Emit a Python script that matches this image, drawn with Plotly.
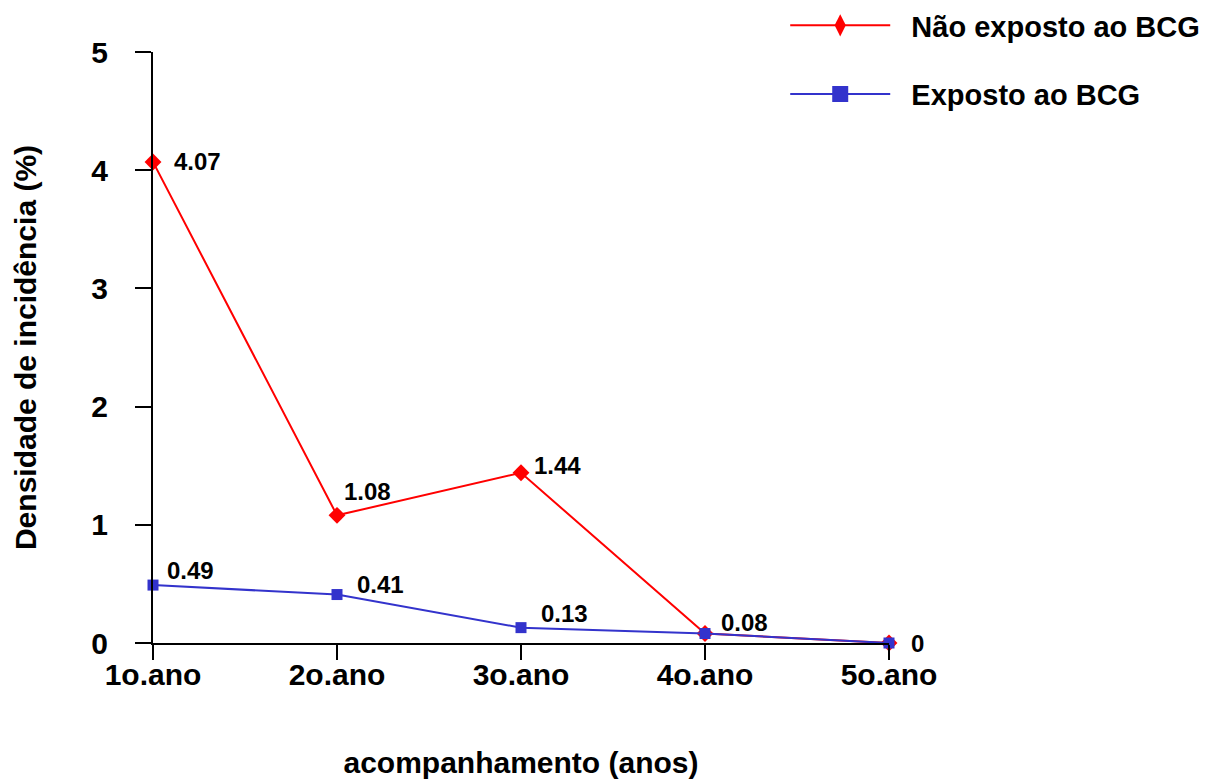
import plotly.graph_objects as go

categories = ["1o.ano", "2o.ano", "3o.ano", "4o.ano", "5o.ano"]
nao_exposto = [4.07, 1.08, 1.44, 0.08, 0]
exposto = [0.49, 0.41, 0.13, 0.08, 0]
nao_exposto_labels = ["4.07", "1.08", "1.44"]
exposto_labels = ["0.49", "0.41", "0.13", "0.08", "0"]
y_ticks = [0, 1, 2, 3, 4, 5]

# label offsets (px) relative to points
red_off = [(19, 0), (5, 24), (11, 7)]
blue_off = [(12, 15), (18, 10), (18, 14), (14, 11), (20, 0)]

xpos = list(range(len(categories)))
RED = "#FF0000"
BLUE = "#3333CC"
FONT = "Liberation Sans, Arial, sans-serif"
NB = "\u00a0\u00a0"

fig = go.Figure()
fig.add_trace(go.Scatter(
    x=xpos, y=nao_exposto, mode="lines+markers", showlegend=False,
    line=dict(color=RED, width=2), marker=dict(symbol="diamond", size=13, color=RED),
    cliponaxis=False))
fig.add_trace(go.Scatter(
    x=xpos, y=exposto, mode="lines+markers", showlegend=False,
    line=dict(color=BLUE, width=2), marker=dict(symbol="square", size=11, color=BLUE),
    cliponaxis=False))
# legend entries (no data)
fig.add_trace(go.Scatter(
    x=[None], y=[None], mode="lines+markers", name=NB + "<b>Não exposto ao BCG</b>",
    line=dict(color=RED, width=2), marker=dict(symbol="diamond-tall", size=16, color=RED),
    legendgroup="a"))
fig.add_trace(go.Scatter(
    x=[None], y=[None], mode="lines+markers", name=NB + "<b>Exposto ao BCG</b>",
    line=dict(color=BLUE, width=2), marker=dict(symbol="square", size=16, color=BLUE),
    legendgroup="b"))

anns = []
for i, t in enumerate(nao_exposto_labels):
    dx, dy = red_off[i]
    anns.append(dict(x=xpos[i], y=nao_exposto[i], text="<b>%s</b>" % t, showarrow=False,
                     xanchor="left", yanchor="middle", xshift=dx, yshift=dy,
                     font=dict(size=24, color="black", family=FONT)))
for i, t in enumerate(exposto_labels):
    dx, dy = blue_off[i]
    anns.append(dict(x=xpos[i], y=exposto[i], text="<b>%s</b>" % t, showarrow=False,
                     xanchor="left", yanchor="middle", xshift=dx, yshift=dy,
                     font=dict(size=24, color="black", family=FONT)))

fig.update_layout(
    width=1212, height=779,
    margin=dict(l=153, r=323, t=52, b=136, autoexpand=False),
    paper_bgcolor="white", plot_bgcolor="white",
    font=dict(family=FONT, color="black", size=30),
    annotations=anns,
    legend=dict(x=0.859, y=1.088, xanchor="left", yanchor="top",
                font=dict(size=29, family=FONT), tracegroupgap=28,
                itemwidth=100, bgcolor="rgba(0,0,0,0)"),
    xaxis=dict(range=[0, 4], tickvals=xpos, ticktext=["<b>%s</b>" % c for c in categories],
               showline=True, linecolor="black", linewidth=2, ticks="outside",
               ticklen=15, tickwidth=2, tickcolor="black", showgrid=False, zeroline=False,
               tickfont=dict(size=30), ticklabelstandoff=-11, automargin=False,
               title=dict(text="<b>acompanhamento (anos)</b>", standoff=68, font=dict(size=30))),
    yaxis=dict(range=[0, 5], tickvals=y_ticks, ticktext=["<b>%d</b>" % v for v in y_ticks],
               showline=True, linecolor="black", linewidth=2, ticks="outside",
               ticklen=16, tickwidth=2, tickcolor="black", showgrid=False, zeroline=False,
               tickfont=dict(size=30), ticklabelstandoff=21, automargin=False,
               title=dict(text="<b>Densidade de incidência (%)</b>", standoff=46, font=dict(size=30))),
)

fig.write_html("out.html", config={"displayModeBar": False},
               post_script="document.body.style.margin='0';")
